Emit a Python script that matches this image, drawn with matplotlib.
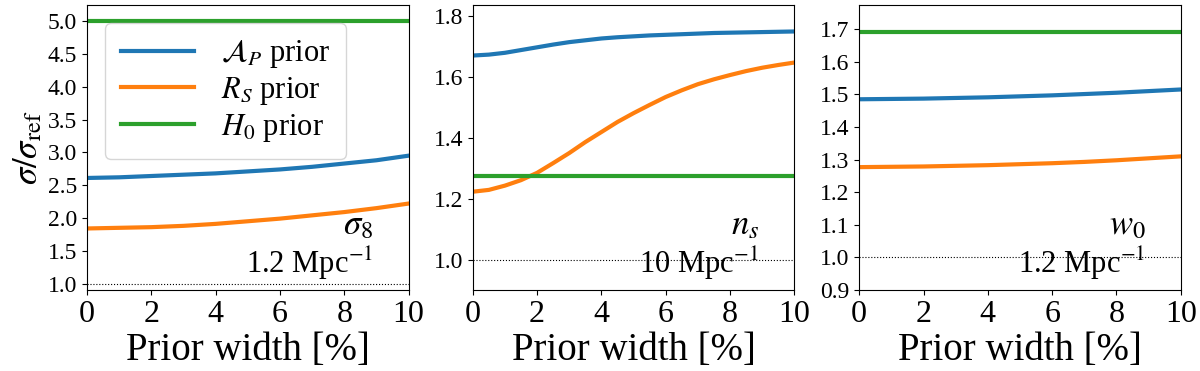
import numpy as np
import matplotlib
matplotlib.use("Agg")
import matplotlib.pyplot as plt

plt.rcParams['font.family'] = 'serif'
plt.rcParams['font.serif'] = ['Liberation Serif', 'Times New Roman', 'DejaVu Serif']
plt.rcParams['mathtext.fontset'] = 'stix'

# prior width in percent
width = [0, 1, 2, 3, 4, 5, 6, 7, 8, 9, 10]
width_fine = [0, 0.5, 1, 1.5, 2, 2.5, 3, 3.5, 4, 4.5, 5,
              5.5, 6, 6.5, 7, 7.5, 8, 8.5, 9, 9.5, 10]

# sigma8 panel
s8_ap = [2.61, 2.62, 2.64, 2.66, 2.68, 2.71, 2.74, 2.78, 2.83, 2.88, 2.95]
s8_rs = [1.84, 1.85, 1.86, 1.88, 1.91, 1.95, 1.99, 2.04, 2.09, 2.15, 2.22]
s8_h0 = [5.0] * 11

# n_s panel (read on the finer grid)
ns_ap = [1.670, 1.673, 1.679, 1.688, 1.697, 1.706, 1.714, 1.720, 1.726, 1.730, 1.733,
         1.736, 1.738, 1.740, 1.742, 1.744, 1.745, 1.746, 1.747, 1.748, 1.749]
ns_rs = [1.223, 1.229, 1.243, 1.261, 1.285, 1.317, 1.350, 1.386, 1.419, 1.452, 1.481,
         1.508, 1.534, 1.556, 1.576, 1.592, 1.606, 1.619, 1.630, 1.639, 1.647]
ns_h0 = [1.273] * 21

# w0 panel
w0_ap = [1.485, 1.486, 1.487, 1.489, 1.491, 1.494, 1.497, 1.501, 1.505, 1.510, 1.515]
w0_rs = [1.277, 1.278, 1.279, 1.281, 1.283, 1.286, 1.289, 1.293, 1.298, 1.304, 1.310]
w0_h0 = [1.69] * 11

params = [r'$\sigma_8$', r'$n_s$', r'$w_0$']
scales = [r'1.2 Mpc$^{-1}$', r'10 Mpc$^{-1}$', r'1.2 Mpc$^{-1}$']
yticks = [np.arange(1.0, 5.01, 0.5), np.arange(1.0, 1.81, 0.2), np.arange(0.9, 1.71, 0.1)]
xs = [width, width_fine, width]
data = [(s8_ap, s8_rs, s8_h0), (ns_ap, ns_rs, ns_h0), (w0_ap, w0_rs, w0_h0)]

fig = plt.figure(figsize=(12, 3.71), dpi=100)
lefts = [0.0725, 0.394, 0.716]
axes = [fig.add_axes([l, 0.218, 0.268, 0.769]) for l in lefts]

for i, ax in enumerate(axes):
    ap, rs, h0 = data[i]
    x = xs[i]
    ax.plot(x, ap, color='C0', lw=3, label=r'$\mathcal{A}_P$ prior')
    ax.plot(x, rs, color='C1', lw=3, label=r'$R_S$ prior')
    ax.plot(x, h0, color='C2', lw=3, label=r'$H_0$ prior')
    ax.axhline(1.0, color='k', ls=':', lw=0.8)
    ymax = max(max(ap), max(rs), max(h0))
    ax.set_ylim(0.9, 1.05 * ymax)
    ax.set_xlim(0, 10)
    ax.set_yticks(yticks[i])
    ax.set_xticks([0, 2, 4, 6, 8, 10])
    ax.tick_params(axis='x', labelsize=23)
    ax.tick_params(axis='y', labelsize=17)
    ax.set_xlabel('Prior width [%]', fontsize=28, labelpad=2)
    ax.text(0.89, 0.225, params[i], transform=ax.transAxes, ha='right', va='center', fontsize=25)
    ax.text(0.89, 0.095, scales[i], transform=ax.transAxes, ha='right', va='center', fontsize=22)

axes[0].set_ylabel(r'$\sigma/\sigma_{\rm ref}$', fontsize=25, labelpad=2)
axes[0].legend(loc='upper left', fontsize=22, handlelength=2.4, handletextpad=0.9,
               labelspacing=0.15, borderaxespad=0.6, borderpad=0.5)

fig.savefig('out.png', dpi=100)
